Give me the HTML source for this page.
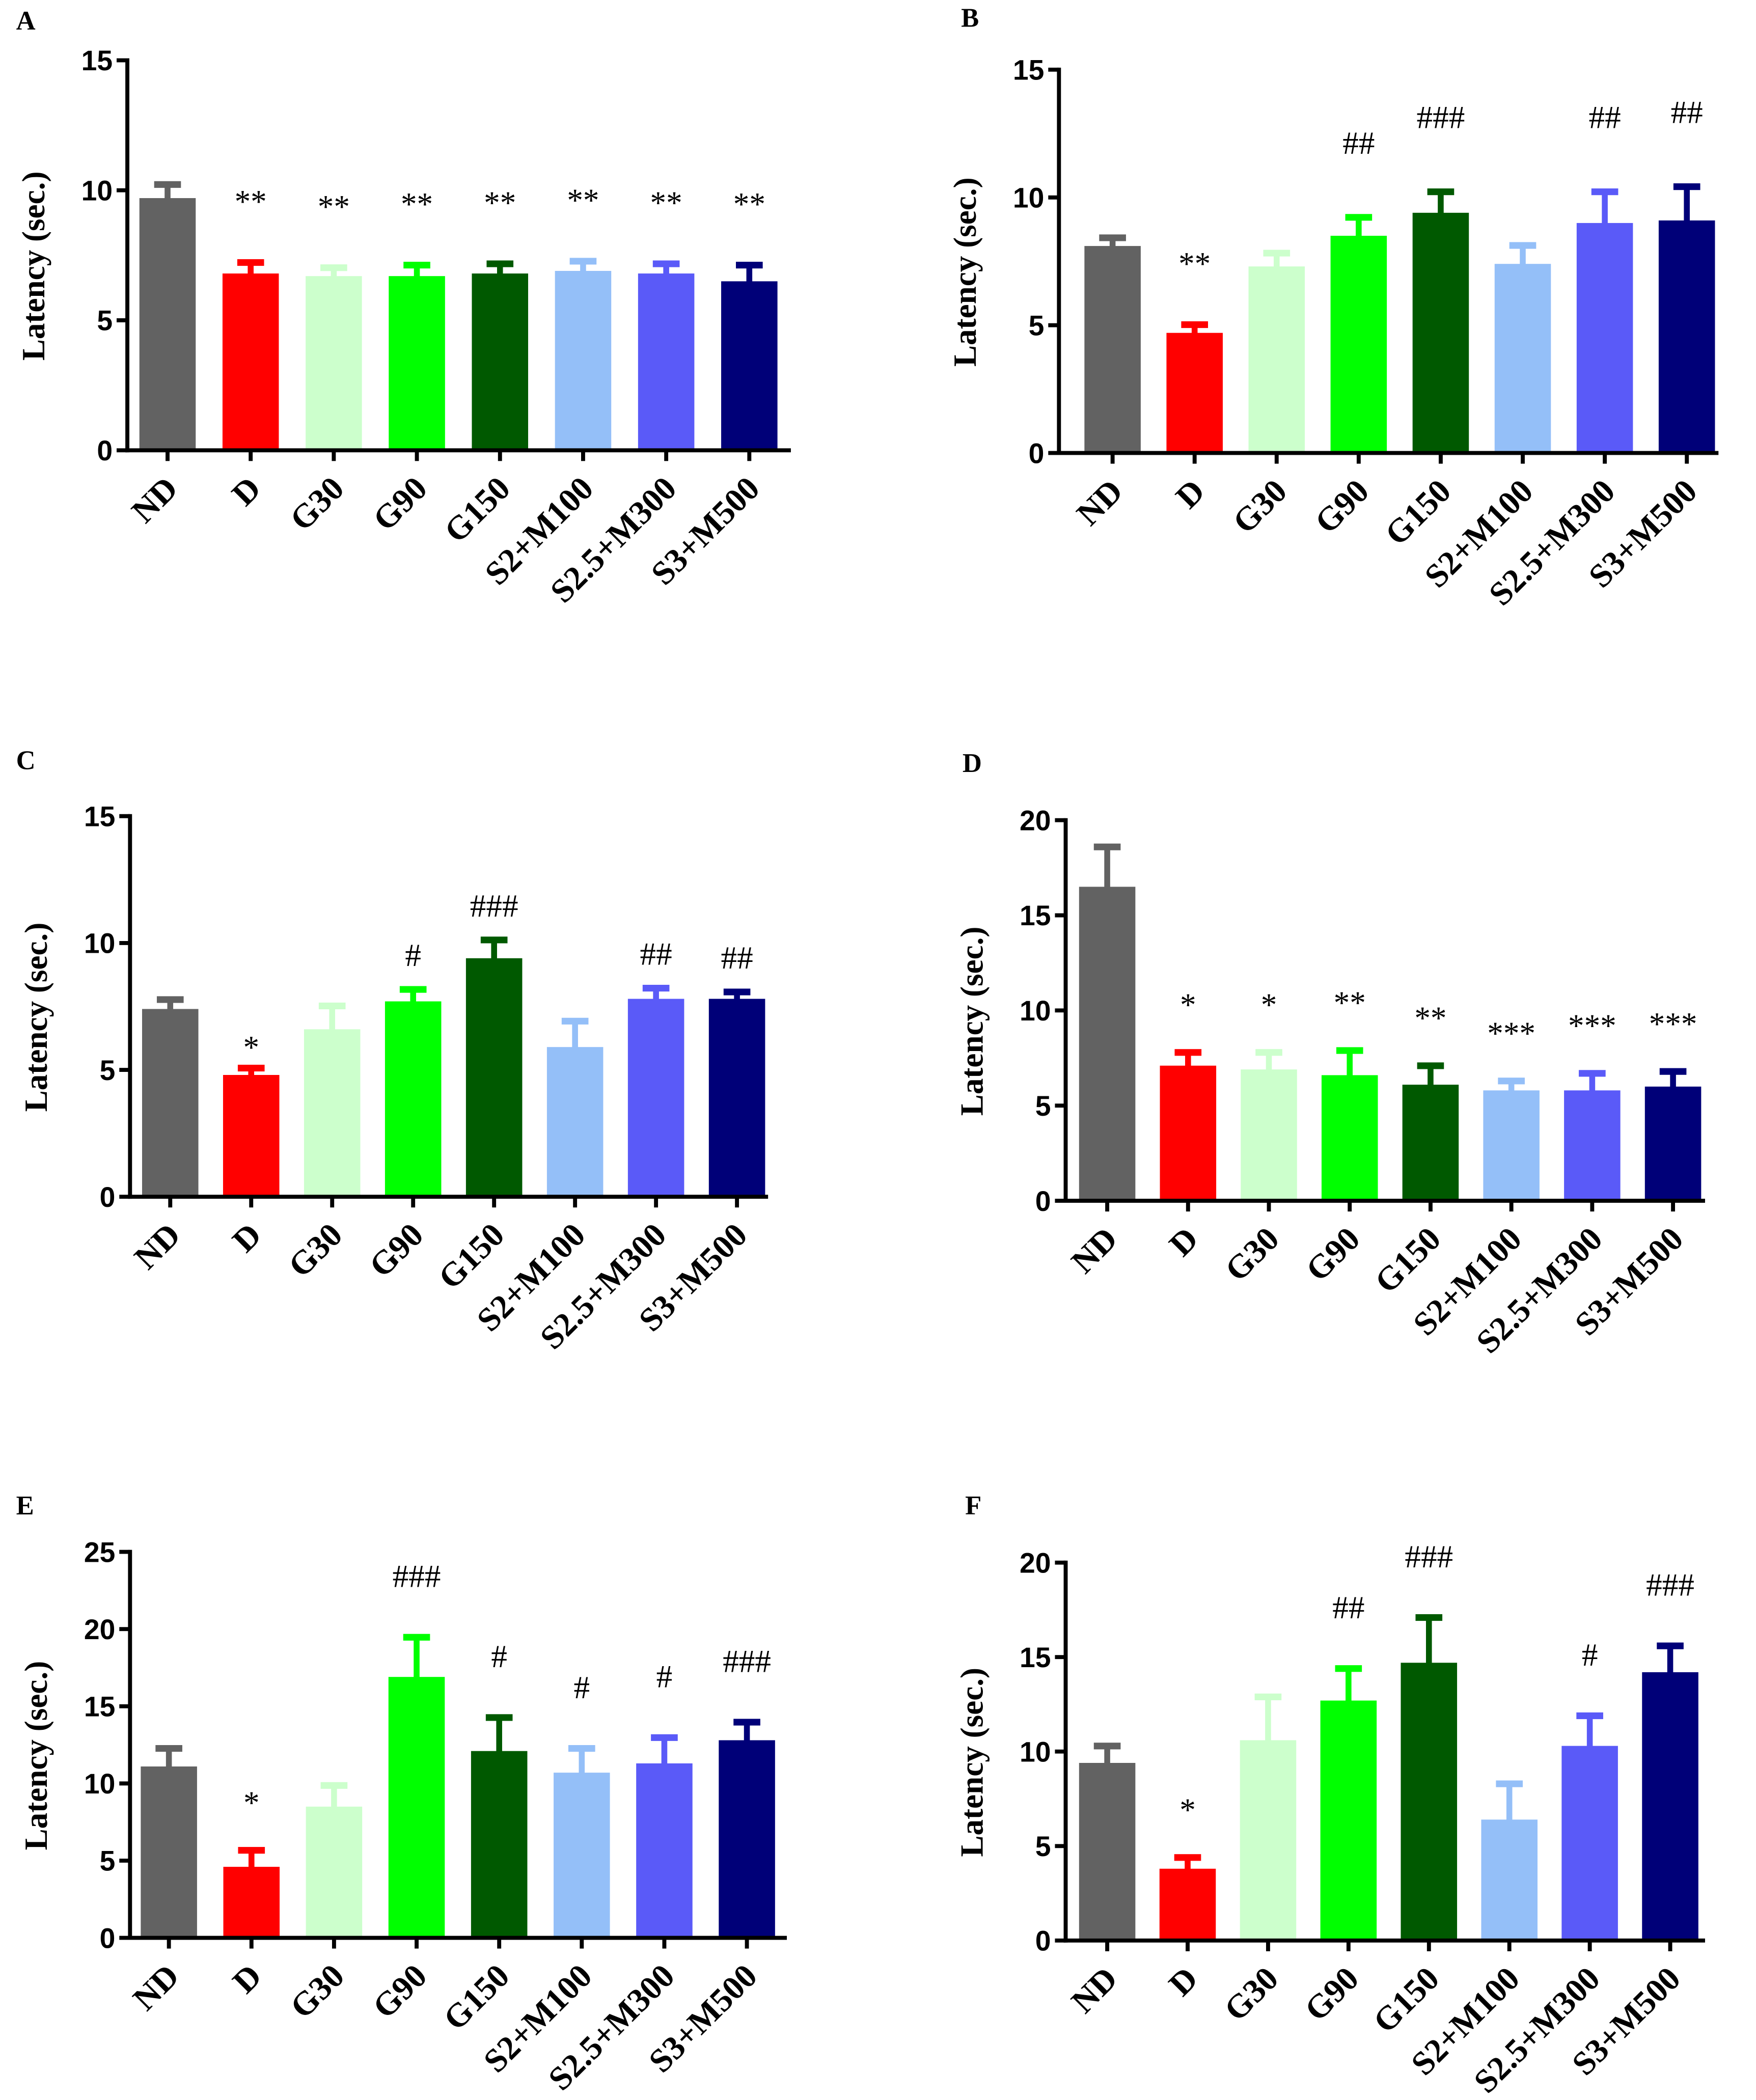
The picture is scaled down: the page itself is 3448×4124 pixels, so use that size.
<!DOCTYPE html>
<html><head><meta charset="utf-8"><style>
html,body{margin:0;padding:0;background:#fff;}
svg{display:block;}
</style></head><body>
<svg id="fig" width="3448" height="4124" viewBox="0 0 1310 1567" preserveAspectRatio="none" xmlns="http://www.w3.org/2000/svg"></svg>
<script>
const categories = ["ND","D","G30","G90","G150","S2+M100","S2.5+M300","S3+M500"];
const colors = ["#626262","#ff0000","#ccffcc","#00ff00","#005900","#94bff8","#5a5af8","#000078"];
const valuesA = [9.7,6.8,6.7,6.7,6.8,6.9,6.8,6.5];
const errorsA = [0.6,0.5,0.4,0.5,0.45,0.45,0.45,0.7];
const annotA = ["","**","**","**","**","**","**","**"];
const valuesB = [8.1,4.7,7.3,8.5,9.4,7.4,9.0,9.1];
const errorsB = [0.4,0.4,0.6,0.8,0.9,0.8,1.3,1.4];
const annotB = ["","**","","##","###","","##","##"];
const valuesC = [7.4,4.8,6.6,7.7,9.4,5.9,7.8,7.8];
const errorsC = [0.45,0.35,1.0,0.55,0.8,1.1,0.5,0.35];
const annotC = ["","*","","#","###","","##","##"];
const valuesD = [16.5,7.1,6.9,6.6,6.1,5.8,5.8,6.0];
const errorsD = [2.2,0.8,1.0,1.4,1.1,0.6,1.0,0.9];
const annotD = ["","*","*","**","**","***","***","***"];
const valuesE = [11.1,4.6,8.5,16.9,12.1,10.7,11.3,12.8];
const errorsE = [1.3,1.2,1.5,2.7,2.3,1.7,1.8,1.3];
const annotE = ["","*","","###","#","#","#","###"];
const valuesF = [9.4,3.8,10.6,12.7,14.7,6.4,10.3,14.2];
const errorsF = [1.0,0.7,2.4,1.8,2.5,2.0,1.7,1.5];
const annotF = ["","*","","##","###","","#","###"];
const ticksA = [0,5,10,15], ticksD=[0,5,10,15,20], ticksE=[0,5,10,15,20,25];

const NS="http://www.w3.org/2000/svg";
const svg=document.getElementById('fig');
function mk(tag,attrs,parent){const e=document.createElementNS(NS,tag);for(const k in attrs)e.setAttribute(k,attrs[k]);(parent||svg).appendChild(e);return e;}

const panels=[
 {id:"A",letter:[12,22],ax:95,top:45,bot:336,x0:125,step:62,end:590,max:15,ticks:ticksA,vals:valuesA,errs:errorsA,ann:annotA,off:46},
 {id:"B",letter:[717,20],ax:790,top:52,bot:338,x0:830,step:61.2,end:1282,max:15,ticks:ticksA,vals:valuesB,errs:errorsB,ann:annotB,off:46},
 {id:"C",letter:[12,574],ax:97,top:609,bot:893,x0:127,step:60.4,end:573,max:15,ticks:ticksA,vals:valuesC,errs:errorsC,ann:annotC,off:16},
 {id:"D",letter:[718,576],ax:795,top:612,bot:896,x0:826,step:60.3,end:1272,max:20,ticks:ticksD,vals:valuesD,errs:errorsD,ann:annotD,off:36},
 {id:"E",letter:[12,1130],ax:97,top:1158,bot:1446,x0:126,step:61.6,end:587,max:25,ticks:ticksE,vals:valuesE,errs:errorsE,ann:annotE,off:36},
 {id:"F",letter:[720,1130],ax:795,top:1166,bot:1448,x0:826,step:60,end:1272,max:20,ticks:ticksD,vals:valuesF,errs:errorsF,ann:annotF,off:36}
];

panels.forEach(p=>{
  const g=mk('g',{});
  
  
  const y=v=>p.bot-(v/p.max)*(p.bot-p.top);
  const x=i=>p.x0+i*p.step;
  const L=mk('text',{x:p.letter[0],y:p.letter[1],'font-family':'Liberation Serif, serif','font-weight':'bold','font-size':20},g);
  L.textContent=p.id;
  
  
  const bw=42;
  p.vals.forEach((v,i)=>{
    const c=colors[i], cx=x(i);
    const et=y(v+p.errs[i]);
    const eb=mk('rect',{x:cx-2.2,y:et,width:4.4,height:y(v)-et+1,fill:c},g);
    
    
    const cap=mk('rect',{x:cx-10,y:et-1,width:20,height:5,fill:c},g);
    
    
    const b=mk('rect',{x:cx-bw/2,y:y(v),width:bw,height:p.bot-y(v),fill:c},g);
    
    
    if(p.ann[i]){
      const t=mk('text',{x:cx,y:et-p.off+(p.ann[i].includes('*')?10:0),'text-anchor':'middle','font-family':'Liberation Serif, serif','font-size':24},g);
      t.textContent=p.ann[i];
      
      
    }
    const tk=mk('line',{x1:cx,x2:cx,y1:p.bot,y2:p.bot+8,stroke:'#000','stroke-width':3},g);
    
    
    const lx=cx+9, ly=p.bot+30;
    const lt=mk('text',{x:lx,y:ly,'text-anchor':'end','font-family':'Liberation Serif, serif','font-weight':'bold','font-size':25,transform:`rotate(-45 ${lx} ${ly})`},g);
    lt.textContent=categories[i];
    
    
  });
  const ya=mk('line',{x1:p.ax,x2:p.ax,y1:p.top-1.5,y2:p.bot+1.5,stroke:'#000','stroke-width':3},g);
  
  
  const xa=mk('line',{x1:p.ax-1.5,x2:p.end,y1:p.bot,y2:p.bot,stroke:'#000','stroke-width':3},g);
  
  
  p.ticks.forEach(t=>{
    const yy=y(t);
    const tl=mk('line',{x1:p.ax-8,x2:p.ax,y1:yy,y2:yy,stroke:'#000','stroke-width':3},g);
    
    
    const tt=mk('text',{x:p.ax-11,y:yy+7.5,'text-anchor':'end','font-family':'Liberation Sans, sans-serif','font-weight':'bold','font-size':21},g);
    tt.textContent=t;
    
    
  });
  const mx=p.ax-62, my=(p.top+p.bot)/2+8;
  const yt=mk('text',{x:mx,y:my,'text-anchor':'middle','font-family':'Liberation Serif, serif','font-weight':'bold','font-size':24,transform:`rotate(-90 ${mx} ${my})`},g);
  yt.textContent='Latency (sec.)';
  
  
});
</script>
</body></html>
